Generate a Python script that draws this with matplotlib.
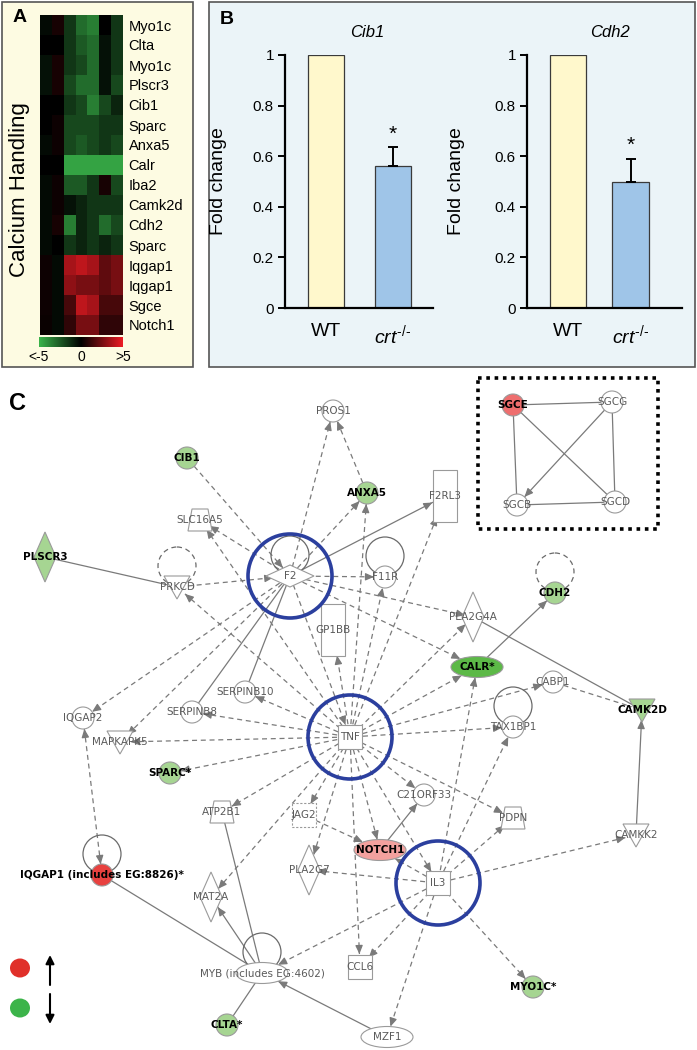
import matplotlib
matplotlib.use("Agg")
import matplotlib.pyplot as plt
import numpy as np
from matplotlib.colors import LinearSegmentedColormap
from matplotlib.patches import Circle, Ellipse, Polygon, Rectangle

plt.rcParams["font.family"] = ["Liberation Sans", "DejaVu Sans"]
plt.rcParams["mathtext.fontset"] = "custom"
plt.rcParams["mathtext.rm"] = "Liberation Sans"
plt.rcParams["mathtext.it"] = "Liberation Sans:italic"

W, H = 697, 1050
OUTPUT_FILENAME = "out.png"

# Panel A: calcium handling heatmap (log fold, clipped at +-5)
GENES = ["Myo1c", "Clta", "Myo1c", "Plscr3", "Cib1", "Sparc", "Anxa5", "Calr",
         "Iba2", "Camk2d", "Cdh2", "Sparc", "Iqgap1", "Iqgap1", "Sgce", "Notch1"]
HEAT_VALUES = np.array([
    [-0.3, 0.5, -1.5, -3.0, -3.5, 0.0, -1.5],
    [0.0, 0.0, -1.5, -2.5, -3.0, -0.5, -1.5],
    [-0.5, 0.5, -1.5, -2.0, -3.0, -0.5, -1.5],
    [-0.5, 0.5, -2.0, -3.0, -3.0, -0.5, -2.0],
    [0.0, 0.0, -1.5, -2.0, -3.5, -2.0, -1.0],
    [0.0, 0.3, -2.0, -2.0, -2.0, -1.5, -1.5],
    [-0.3, 0.3, -2.0, -2.5, -2.0, -1.5, -2.0],
    [0.0, 0.0, -4.5, -4.5, -4.5, -4.5, -4.5],
    [-0.3, 0.3, -2.5, -2.5, -1.5, 0.5, -2.0],
    [-0.3, 0.3, -0.5, -1.0, -1.5, -1.5, -1.5],
    [-0.3, 0.5, -3.5, -1.0, -1.5, -3.0, -2.0],
    [-0.3, 0.0, -1.5, -1.0, -1.5, -1.0, -1.5],
    [0.3, -0.3, 3.5, 4.0, 3.5, 2.0, 2.5],
    [0.3, -0.3, 3.0, 2.5, 2.5, 2.0, 2.5],
    [0.3, -0.3, 1.5, 4.0, 3.5, 1.5, 1.5],
    [0.2, -0.3, 1.0, 2.5, 2.5, 1.0, 1.0],
])
COLORBAR_TICKS = [-5, 0, 5]
COLORBAR_LABELS = ["<-5", "0", ">5"]

# Panel B: qPCR fold change
GROUPS = ["WT", r"$\mathit{crt}^{\text{-/-}}$"]
CIB1_FOLD = [1.0, 0.56]
CIB1_ERR = [0.0, 0.075]
CDH2_FOLD = [1.0, 0.50]
CDH2_ERR = [0.0, 0.09]
Y_TICKS = [0, 0.2, 0.4, 0.6, 0.8, 1]
Y_TICK_LABELS = ["0", "0.2", "0.4", "0.6", "0.8", "1"]

# Panel C: interaction network
NODE_NAMES = ["PROS1", "CIB1", "SLC16A5", "PLSCR3", "ANXA5", "F2RL3", "F2", "PRKCD",
              "F11R", "PLA2G4A", "CDH2", "GP1BB", "CALR", "SERPINB10", "SERPINB8",
              "IQGAP2", "CABP1", "CAMK2D", "TAX1BP1", "TNF", "MAPKAPK5", "SPARC",
              "C21ORF33", "ATP2B1", "JAG2", "PDPN", "CAMKK2", "NOTCH1", "PLA2G7",
              "IQGAP1", "IL3", "MAT2A", "CCL6", "MYB", "MYO1C", "CLTA", "MZF1",
              "SGCE", "SGCG", "SGCB", "SGCD"]
NODE_LABELS = ["PROS1", "CIB1", "SLC16A5", "PLSCR3", "ANXA5", "F2RL3", "F2", "PRKCD",
               "F11R", "PLA2G4A", "CDH2", "GP1BB", "CALR*", "SERPINB10", "SERPINB8",
               "IQGAP2", "CABP1", "CAMK2D", "TAX1BP1", "TNF", "MAPKAPK5", "SPARC*",
               "C21ORF33", "ATP2B1", "JAG2", "PDPN", "CAMKK2", "NOTCH1", "PLA2G7",
               "IQGAP1 (includes EG:8826)*", "IL3", "MAT2A", "CCL6",
               "MYB (includes EG:4602)", "MYO1C*", "CLTA*", "MZF1",
               "SGCE", "SGCG", "SGCB", "SGCD"]
NODE_X = [333, 187, 200, 45, 367, 445, 290, 177, 385, 473, 555, 333, 477, 245, 192,
          83, 553, 642, 513, 350, 120, 170, 424, 222, 304, 513, 636, 380, 309,
          102, 438, 211, 360, 262, 533, 227, 387, 513, 612, 517, 615]
NODE_Y = [411, 458, 520, 557, 493, 496, 576, 587, 577, 617, 593, 630, 667, 692, 712,
          718, 682, 710, 727, 737, 742, 773, 795, 812, 815, 818, 835, 850, 870,
          875, 883, 897, 967, 973, 987, 1025, 1037, 405, 402, 505, 502]
NODE_SHAPES = ["circle", "circle", "trap", "vdiamond", "circle", "tallrect", "hdiamond",
               "vtri", "circle", "vdiamond", "circle", "tallrect", "ellipse", "circle",
               "circle", "circle", "circle", "vtri", "circle", "square", "vtri", "circle",
               "circle", "trap", "dsquare", "trap", "vtri", "ellipse", "vdiamond",
               "circle", "square", "vdiamond", "square", "ellipse", "circle", "circle",
               "ellipse", "circle", "circle", "circle", "circle"]
NODE_STATES = ["", "down", "", "down", "down", "", "", "", "", "", "down", "", "down2",
               "", "", "", "", "down", "", "", "", "down", "", "", "", "", "", "up1",
               "", "up3", "", "", "", "", "down", "down", "", "up2", "", "", ""]

EDGE_SRC = ["F2", "ANXA5", "CIB1", "F2", "TNF", "F2", "TNF", "F2", "TNF", "PLSCR3",
            "PRKCD", "TNF", "F2", "TNF", "F2", "TNF", "F2", "CALR", "PLA2G4A", "TNF",
            "F2", "F2", "F2", "F2", "TNF", "TNF", "TNF", "TNF", "F2", "TNF", "TNF",
            "TNF", "CABP1", "CAMKK2", "IL3", "IL3", "IL3", "IL3", "TNF", "TNF", "TNF",
            "TNF", "TNF", "JAG2", "NOTCH1", "IL3", "TNF", "IL3", "TNF", "TNF", "TNF",
            "IL3", "IL3", "IL3", "IL3", "MYB", "MYB", "MYB", "MYB", "MZF1", "IQGAP1",
            "SGCE", "SGCE", "SGCE", "SGCG", "SGCG", "SGCB"]
EDGE_DST = ["PROS1", "PROS1", "F2", "SLC16A5", "SLC16A5", "ANXA5", "ANXA5", "F2RL3",
            "F2RL3", "PRKCD", "F2", "PRKCD", "F11R", "F11R", "PLA2G4A", "PLA2G4A",
            "CALR", "CDH2", "CAMK2D", "GP1BB", "IQGAP2", "MAPKAPK5", "SERPINB10",
            "SERPINB8", "SERPINB10", "SERPINB8", "MAPKAPK5", "SPARC", "TNF", "CALR",
            "CABP1", "TAX1BP1", "CAMK2D", "CAMK2D", "CAMKK2", "CALR", "TAX1BP1", "PDPN",
            "PDPN", "C21ORF33", "JAG2", "ATP2B1", "NOTCH1", "NOTCH1", "C21ORF33",
            "NOTCH1", "IL3", "PLA2G7", "PLA2G7", "MAT2A", "CCL6", "CCL6", "MYB", "MZF1",
            "MYO1C", "MAT2A", "ATP2B1", "IQGAP1", "CLTA", "MYB", "IQGAP2",
            "SGCG", "SGCB", "SGCD", "SGCB", "SGCD", "SGCD"]
EDGE_STYLE = ["d>", "d>", "d>", "d>", "d>", "d>", "d>", "s>", "d>", "s-",
              "d>", "d>", "d>", "d>", "d>", "d>", "d>", "s>", "s-", "d>",
              "d>", "d>", "s-", "s-", "d>", "d>", "d>", "d>", "d>", "d>", "d>",
              "d>", "d-", "s>", "d>", "d>", "d>", "d>", "d>", "d>", "d>",
              "d>", "d>", "d>", "s>", "d>", "d>", "d>", "d>", "d>", "d>",
              "d>", "d>", "d>", "d>", "s>", "s-", "s-", "s-", "s>", "d<>",
              "s-", "s-", "s-", "s>", "s-", "s-"]

LOOP_NODES = ["F2", "PRKCD", "F11R", "CDH2", "TAX1BP1", "IQGAP1", "MYB"]
LOOP_DASHED = [False, True, False, True, False, False, False]
HUB_NODES = ["F2", "TNF", "IL3"]

STATE_COLORS = {"": "white", "down": "#a6d592", "down2": "#5cb947",
                "up1": "#f3a19e", "up2": "#ee6e6e", "up3": "#e8413f"}
# half sizes used to trim edges at node borders
SHAPE_HALF = {"circle": (11, 11), "ellipse": (26, 10.5), "hdiamond": (17, 9),
              "vdiamond": (8, 19), "vtri": (11, 10), "tallrect": (13, 27),
              "square": (13, 13), "dsquare": (13, 13), "trap": (11, 12)}
EDGE_COLOR = "#7a7a7a"
NODE_EDGE = "#9a9a9a"
HEAD = "-|>,head_length=0.5,head_width=0.22"


def px_axes(fig, x0, y0, x1, y1):
    return fig.add_axes([x0 / W, 1 - y1 / H, (x1 - x0) / W, (y1 - y0) / H])


def node_patch(shape, x, y, fc):
    kw = dict(fc=fc, ec=NODE_EDGE, lw=0.8, zorder=3)
    if shape == "circle":
        return Circle((x, y), 11, **kw)
    if shape == "ellipse":
        return Ellipse((x, y), 52, 21, **kw)
    if shape == "hdiamond":
        return Polygon([(x - 24, y), (x, y - 11), (x + 24, y), (x, y + 11)], **kw)
    if shape == "vdiamond":
        return Polygon([(x - 11, y), (x, y - 25), (x + 11, y), (x, y + 25)], **kw)
    if shape == "vtri":
        return Polygon([(x - 13, y - 11), (x + 13, y - 11), (x, y + 12)], **kw)
    if shape == "tallrect":
        return Rectangle((x - 12, y - 26), 24, 52, **kw)
    if shape == "square":
        return Rectangle((x - 12, y - 12), 24, 24, **kw)
    if shape == "dsquare":
        return Rectangle((x - 12, y - 12), 24, 24, ls=(0, (2, 1.5)), **kw)
    return Polygon([(x - 8, y - 11), (x + 8, y - 11), (x + 12, y + 11), (x - 12, y + 11)], **kw)


def border_dist(shape, ux, uy):
    a, b = SHAPE_HALF[shape]
    return 1.0 / np.sqrt((ux / a) ** 2 + (uy / b) ** 2)


def arrow_head(ax, x, y, ux, uy):
    ax.annotate("", xy=(x, y), xytext=(x - ux * 7, y - uy * 7),
                arrowprops=dict(arrowstyle=HEAD, color=EDGE_COLOR, lw=0.9,
                                shrinkA=0, shrinkB=0), zorder=2)


def draw_bars(fig, rect, values, errs, xlim, width, title, title_x, ylabel_x):
    ax = px_axes(fig, *rect)
    ax.set_facecolor("none")
    x = np.arange(len(GROUPS))
    ax.bar(x, values, width, color=["#fff8cc", "#9fc5e8"], edgecolor="#3a3a3a",
           linewidth=0.9, zorder=2)
    ax.errorbar(x[1], values[1], yerr=[[0], [errs[1]]], color="black", lw=1.4,
                capsize=3.5, capthick=1.4, zorder=3)
    ax.text(x[1], values[1] + errs[1] + 0.015, "*", ha="center", va="bottom", fontsize=15)
    ax.set_xlim(*xlim)
    ax.set_ylim(0, 1)
    ax.set_yticks(Y_TICKS, Y_TICK_LABELS)
    ax.set_xticks(x, GROUPS)
    for side in ("top", "right"):
        ax.spines[side].set_visible(False)
    ax.spines["left"].set_linewidth(1.6)
    ax.spines["bottom"].set_linewidth(1.6)
    ax.tick_params(axis="y", direction="out", length=5, width=1.4, labelsize=11, pad=3)
    ax.tick_params(axis="x", length=0, labelsize=14, pad=11)
    ax.set_ylabel("Fold change", fontsize=14)
    ax.yaxis.set_label_coords(ylabel_x, 0.5)
    ax.text(title_x, 1.087, title, transform=ax.transAxes, ha="center", va="center",
            fontsize=12, style="italic")
    return ax


def main() -> None:
    fig = plt.figure(figsize=(W / 100, H / 100), dpi=100)
    bg = fig.add_axes([0, 0, 1, 1])
    bg.set_xlim(0, W)
    bg.set_ylim(H, 0)
    bg.axis("off")

    # panel frames
    bg.add_patch(Rectangle((2, 2), 191, 365, fc="#fdfbe2", ec="#555555", lw=1.2))
    bg.add_patch(Rectangle((209, 2), 486, 365, fc="#ebf4f8", ec="#555555", lw=1.2))
    bg.text(20, 17, "A", fontsize=14, fontweight="bold", ha="center", va="center")
    bg.text(227, 19, "B", fontsize=14, fontweight="bold", ha="center", va="center")
    bg.text(17, 403, "C", fontsize=17, fontweight="bold", ha="center", va="center")
    bg.text(20, 190, "Calcium Handling", rotation=90, fontsize=16, ha="center", va="center")

    # Panel A heatmap
    cmap = LinearSegmentedColormap.from_list("gbr", ["#3ab44a", "#000000", "#ed1c24"])
    ax_heat = px_axes(fig, 40, 15, 123, 335)
    ax_heat.imshow(HEAT_VALUES, cmap=cmap, vmin=-5, vmax=5, aspect="auto",
                   interpolation="nearest")
    ax_heat.set_xticks([])
    ax_heat.set_yticks(range(len(GENES)), GENES)
    ax_heat.yaxis.tick_right()
    ax_heat.tick_params(axis="y", length=0, labelsize=10.5, pad=4)
    for spine in ax_heat.spines.values():
        spine.set_visible(False)

    ax_cbar = px_axes(fig, 39, 337, 123, 347)
    gradient = np.linspace(-5, 5, 256)[None, :]
    ax_cbar.imshow(gradient, cmap=cmap, vmin=-5, vmax=5, aspect="auto",
                   extent=(-5, 5, 0, 1))
    ax_cbar.set_yticks([])
    ax_cbar.set_xticks(COLORBAR_TICKS, COLORBAR_LABELS)
    ax_cbar.tick_params(axis="x", length=0, labelsize=10, pad=2)
    for spine in ax_cbar.spines.values():
        spine.set_visible(False)

    # Panel B bars
    draw_bars(fig, (285, 55, 433, 308), CIB1_FOLD, CIB1_ERR, (-0.612, 1.597), 0.55,
              "Cib1", 0.554, -0.39)
    draw_bars(fig, (527, 55, 682, 308), CDH2_FOLD, CDH2_ERR, (-0.651, 1.81), 0.587,
              "Cdh2", 0.535, -0.40)

    # Panel C network
    pos = {n: (x, y) for n, x, y in zip(NODE_NAMES, NODE_X, NODE_Y)}
    shape_of = dict(zip(NODE_NAMES, NODE_SHAPES))

    for src, dst, style in zip(EDGE_SRC, EDGE_DST, EDGE_STYLE):
        (x0, y0), (x1, y1) = pos[src], pos[dst]
        length = np.hypot(x1 - x0, y1 - y0)
        ux, uy = (x1 - x0) / length, (y1 - y0) / length
        d0 = border_dist(shape_of[src], ux, uy)
        d1 = border_dist(shape_of[dst], ux, uy)
        sx, sy = x0 + ux * d0, y0 + uy * d0
        ex, ey = x1 - ux * d1, y1 - uy * d1
        ls = (0, (4, 3)) if style[0] == "d" else "-"
        bg.plot([sx, ex], [sy, ey], color=EDGE_COLOR, lw=0.9, ls=ls, zorder=2)
        if style.endswith(">"):
            arrow_head(bg, ex, ey, ux, uy)
        if "<" in style:
            arrow_head(bg, sx, sy, -ux, -uy)

    for name, dashed in zip(LOOP_NODES, LOOP_DASHED):
        x, y = pos[name]
        bg.add_patch(Circle((x, y - 21), 19, fill=False, ec="#6a6a6a", lw=0.9,
                            ls=(0, (4, 3)) if dashed else "-", zorder=2.5))

    for name, label, shape, state in zip(NODE_NAMES, NODE_LABELS, NODE_SHAPES, NODE_STATES):
        x, y = pos[name]
        bg.add_patch(node_patch(shape, x, y, STATE_COLORS[state]))
        if state:
            bg.text(x, y, label, ha="center", va="center", fontsize=7.5,
                    family="DejaVu Sans", fontweight="bold", color="black", zorder=4)
        else:
            bg.text(x, y, label, ha="center", va="center", fontsize=7.5,
                    family="DejaVu Sans", color="#5a5a5a", zorder=4)

    for name in HUB_NODES:
        bg.add_patch(Circle(pos[name], 42, fill=False, ec="#2b3f9e", lw=2.6, zorder=5))

    # inset frame for the sarcoglycan complex
    bg.add_patch(Rectangle((478, 378), 180, 151, fill=False, ec="black", lw=2.6,
                           ls=(0, (1, 1.3)), zorder=1))

    # legend
    bg.add_patch(Ellipse((20, 968), 20, 19, fc="#e0302a", ec="none"))
    bg.add_patch(Ellipse((20, 1008), 20, 19, fc="#3cb44a", ec="none"))
    legend_arrow = dict(arrowstyle="-|>,head_length=0.5,head_width=0.25",
                        color="black", lw=1.5, shrinkA=0, shrinkB=0)
    bg.annotate("", xy=(50, 955), xytext=(50, 985), arrowprops=legend_arrow)
    bg.annotate("", xy=(50, 1024), xytext=(50, 994), arrowprops=legend_arrow)

    plt.savefig(OUTPUT_FILENAME, dpi=100)


if __name__ == "__main__":
    main()
